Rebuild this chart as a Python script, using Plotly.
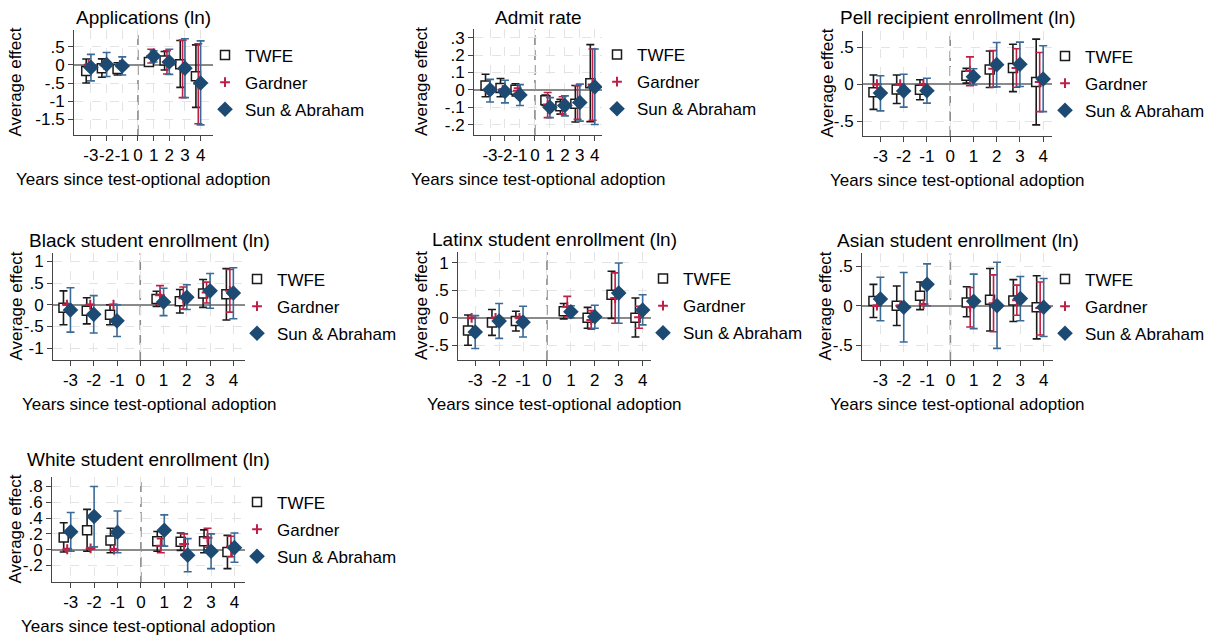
import plotly.graph_objects as go

W, H = 1216, 639
FONT = "Liberation Sans, Arial, Helvetica, sans-serif"

# Event time (years relative to test-optional adoption); 0 is the reference year
YEARS = [-3, -2, -1, 1, 2, 3, 4]
SERIES = ["TWFE", "Gardner", "Sun & Abraham"]

# ---- Applications (ln)
APPS_EST = {"TWFE": [-0.17, -0.09, -0.11, 0.08, 0.12, 0.02, -0.31],
            "Gardner": [0.0, 0.0, 0.0, 0.24, 0.07, -0.11, -0.52],
            "Sun & Abraham": [-0.07, 0.01, -0.03, 0.24, 0.08, -0.09, -0.50]}
APPS_LO = {"TWFE": [-0.50, -0.34, -0.28, 0.00, -0.14, -0.62, -1.17],
           "Gardner": [-0.02, -0.02, -0.02, 0.05, -0.25, -0.90, -1.62],
           "Sun & Abraham": [-0.44, -0.32, -0.28, 0.08, -0.26, -0.90, -1.65]}
APPS_HI = {"TWFE": [0.16, 0.165, 0.06, 0.17, 0.37, 0.67, 0.55],
           "Gardner": [0.02, 0.02, 0.02, 0.43, 0.39, 0.68, 0.58],
           "Sun & Abraham": [0.29, 0.34, 0.22, 0.39, 0.43, 0.72, 0.66]}

# ---- Admit rate
ADMIT_EST = {"TWFE": [0.025, 0.01, 0.0, -0.06, -0.095, -0.08, 0.038],
             "Gardner": [0.0, 0.0, -0.005, -0.085, -0.09, -0.075, 0.03],
             "Sun & Abraham": [0.0, -0.01, -0.03, -0.10, -0.09, -0.073, 0.017]}
ADMIT_LO = {"TWFE": [-0.04, -0.04, -0.035, -0.09, -0.14, -0.185, -0.183],
            "Gardner": [-0.005, -0.005, -0.02, -0.16, -0.14, -0.17, -0.175],
            "Sun & Abraham": [-0.07, -0.075, -0.09, -0.16, -0.15, -0.18, -0.20]}
ADMIT_HI = {"TWFE": [0.09, 0.065, 0.035, -0.03, -0.055, 0.025, 0.26],
            "Gardner": [0.005, 0.005, 0.01, -0.015, -0.04, 0.023, 0.235],
            "Sun & Abraham": [0.06, 0.055, 0.03, -0.045, -0.035, 0.033, 0.235]}

# ---- Pell recipient enrollment (ln)
PELL_EST = {"TWFE": [-0.11, -0.07, -0.075, 0.115, 0.20, 0.22, 0.03],
            "Gardner": [0.0, 0.0, 0.0, 0.18, 0.21, 0.22, 0.03],
            "Sun & Abraham": [-0.12, -0.09, -0.088, 0.10, 0.265, 0.27, 0.07]}
PELL_LO = {"TWFE": [-0.34, -0.26, -0.21, 0.015, -0.045, -0.10, -0.55],
           "Gardner": [-0.005, -0.005, -0.005, -0.02, -0.04, -0.04, -0.37],
           "Sun & Abraham": [-0.36, -0.31, -0.255, -0.01, -0.035, -0.03, -0.37]}
PELL_HI = {"TWFE": [0.125, 0.125, 0.06, 0.215, 0.45, 0.54, 0.61],
           "Gardner": [0.005, 0.005, 0.005, 0.37, 0.455, 0.48, 0.43],
           "Sun & Abraham": [0.115, 0.135, 0.08, 0.21, 0.565, 0.57, 0.52]}

# ---- Black student enrollment (ln)
BLACK_EST = {"TWFE": [-0.07, -0.14, -0.23, 0.13, 0.08, 0.26, 0.24],
             "Gardner": [0.0, 0.0, 0.0, 0.22, 0.15, 0.28, 0.32],
             "Sun & Abraham": [-0.12, -0.22, -0.37, 0.065, 0.17, 0.32, 0.27]}
BLACK_LO = {"TWFE": [-0.46, -0.44, -0.46, -0.04, -0.19, -0.06, -0.35],
            "Gardner": [-0.01, -0.01, -0.01, 0.0, -0.10, 0.04, -0.17],
            "Sun & Abraham": [-0.63, -0.65, -0.73, -0.25, -0.11, -0.08, -0.32]}
BLACK_HI = {"TWFE": [0.32, 0.16, 0.0, 0.31, 0.35, 0.58, 0.83],
            "Gardner": [0.01, 0.01, 0.01, 0.44, 0.41, 0.52, 0.81],
            "Sun & Abraham": [0.39, 0.21, 0.0, 0.38, 0.46, 0.72, 0.85]}

# ---- Latinx student enrollment (ln)
LATINX_EST = {"TWFE": [-0.23, -0.085, -0.06, 0.12, 0.0, 0.42, 0.0],
              "Gardner": [0.0, 0.0, 0.0, 0.20, -0.04, 0.36, 0.01],
              "Sun & Abraham": [-0.26, -0.06, -0.08, 0.11, 0.02, 0.45, 0.14]}
LATINX_LO = {"TWFE": [-0.50, -0.32, -0.24, -0.02, -0.19, -0.01, -0.35],
             "Gardner": [-0.01, -0.01, -0.01, 0.02, -0.21, -0.10, -0.19],
             "Sun & Abraham": [-0.56, -0.375, -0.35, 0.0, -0.19, -0.10, -0.13]}
LATINX_HI = {"TWFE": [0.05, 0.15, 0.12, 0.26, 0.19, 0.85, 0.36],
             "Gardner": [0.01, 0.01, 0.01, 0.39, 0.13, 0.82, 0.21],
             "Sun & Abraham": [0.04, 0.26, 0.21, 0.22, 0.23, 1.0, 0.42]}

# ---- Asian student enrollment (ln)
ASIAN_EST = {"TWFE": [0.06, 0.0, 0.125, 0.04, 0.075, 0.065, -0.02],
             "Gardner": [0.0, 0.0, 0.02, -0.02, 0.03, 0.07, -0.03],
             "Sun & Abraham": [0.085, -0.02, 0.27, 0.055, 0.0, 0.09, -0.02]}
ASIAN_LO = {"TWFE": [-0.15, -0.25, -0.05, -0.14, -0.32, -0.20, -0.42],
            "Gardner": [-0.005, -0.005, 0.015, -0.27, -0.33, -0.12, -0.37],
            "Sun & Abraham": [-0.19, -0.46, 0.0, -0.29, -0.54, -0.19, -0.39]}
ASIAN_HI = {"TWFE": [0.27, 0.25, 0.30, 0.24, 0.47, 0.33, 0.38],
            "Gardner": [0.005, 0.005, 0.025, 0.23, 0.39, 0.26, 0.30],
            "Sun & Abraham": [0.36, 0.42, 0.53, 0.40, 0.55, 0.37, 0.345]}

# ---- White student enrollment (ln)
WHITE_EST = {"TWFE": [0.155, 0.245, 0.115, 0.105, 0.10, 0.105, -0.03],
             "Gardner": [0.005, 0.015, 0.0, 0.05, 0.07, 0.15, 0.04],
             "Sun & Abraham": [0.225, 0.42, 0.22, 0.245, -0.07, -0.02, 0.025]}
WHITE_LO = {"TWFE": [-0.03, -0.02, -0.04, -0.02, -0.01, -0.04, -0.24],
            "Gardner": [-0.005, 0.005, -0.01, -0.04, -0.06, 0.03, -0.09],
            "Sun & Abraham": [-0.02, 0.035, -0.04, 0.045, -0.28, -0.24, -0.16]}
WHITE_HI = {"TWFE": [0.34, 0.51, 0.27, 0.23, 0.21, 0.25, 0.18],
            "Gardner": [0.015, 0.025, 0.01, 0.14, 0.20, 0.27, 0.17],
            "Sun & Abraham": [0.47, 0.80, 0.49, 0.44, 0.14, 0.20, 0.21]}

# y-axis tick values / labels per outcome
APPS_YTICKS = [-1.5, -1, -0.5, 0, 0.5]
APPS_YLABELS = ["-1.5", "-1", "-.5", "0", ".5"]
ADMIT_YTICKS = [-0.2, -0.1, 0, 0.1, 0.2, 0.3]
ADMIT_YLABELS = ["-.2", "-.1", "0", ".1", ".2", ".3"]
HALF_YTICKS = [-0.5, 0, 0.5]
HALF_YLABELS = ["-.5", "0", ".5"]
BLACK_YTICKS = [-1, -0.5, 0, 0.5, 1]
BLACK_YLABELS = ["-1", "-.5", "0", ".5", "1"]
LATINX_YTICKS = [-0.5, 0, 0.5, 1]
LATINX_YLABELS = ["-.5", "0", ".5", "1"]
WHITE_YTICKS = [-0.2, 0, 0.2, 0.4, 0.6, 0.8]
WHITE_YLABELS = ["-.2", "0", ".2", ".4", ".6", ".8"]

XTICKS = [-3, -2, -1, 0, 1, 2, 3, 4]

PANELS = [
    dict(title="Applications (ln)", est=APPS_EST, lo=APPS_LO, hi=APPS_HI,
         yt=APPS_YTICKS, yl=APPS_YLABELS),
    dict(title="Admit rate", est=ADMIT_EST, lo=ADMIT_LO, hi=ADMIT_HI,
         yt=ADMIT_YTICKS, yl=ADMIT_YLABELS),
    dict(title="Pell recipient enrollment (ln)", est=PELL_EST, lo=PELL_LO, hi=PELL_HI,
         yt=HALF_YTICKS, yl=HALF_YLABELS),
    dict(title="Black student enrollment (ln)", est=BLACK_EST, lo=BLACK_LO, hi=BLACK_HI,
         yt=BLACK_YTICKS, yl=BLACK_YLABELS),
    dict(title="Latinx student enrollment (ln)", est=LATINX_EST, lo=LATINX_LO, hi=LATINX_HI,
         yt=LATINX_YTICKS, yl=LATINX_YLABELS),
    dict(title="Asian student enrollment (ln)", est=ASIAN_EST, lo=ASIAN_LO, hi=ASIAN_HI,
         yt=HALF_YTICKS, yl=HALF_YLABELS),
    dict(title="White student enrollment (ln)", est=WHITE_EST, lo=WHITE_LO, hi=WHITE_HI,
         yt=WHITE_YTICKS, yl=WHITE_YLABELS),
]

# Panel geometry in pixels: plot box (left, right, top, bottom), axis ranges,
# title y, y-title x, legend text start x
GEOM = [
    dict(box=(74, 213, 30, 135), xr=(-4.08, 4.79), yr=(-1.93, 0.96), ty=18, ytx=15, lgx=245),
    dict(box=(474, 602, 29, 135), xr=(-4.07, 4.48), yr=(-0.26, 0.35), ty=17, ytx=422, lgx=637),
    dict(box=(863, 1052, 31, 136), xr=(-3.75, 4.38), yr=(-0.70, 0.72), ty=17, ytx=827, lgx=1085),
    dict(box=(53, 245, 253, 360), xr=(-3.75, 4.5), yr=(-1.27, 1.19), ty=240, ytx=16, lgx=277),
    dict(box=(458, 651, 252, 360), xr=(-3.72, 4.35), yr=(-0.77, 1.2), ty=239, ytx=421, lgx=683),
    dict(box=(862, 1053, 253, 360), xr=(-3.79, 4.4), yr=(-0.687, 0.667), ty=240, ytx=825, lgx=1085),
    dict(box=(52, 245, 477, 582), xr=(-3.8, 4.45), yr=(-0.41, 0.92), ty=460, ytx=15, lgx=277),
]

OFFSET = {"TWFE": -0.3, "Gardner": -0.15, "Sun & Abraham": 0.0}
RED = "#bf2146"
NAVY = "#1d4a72"
BAR_BLUE = "#3a6a95"
BLACK = "#1a1a1a"
MARKERS = {
    "TWFE": dict(symbol="square", size=9, color="white", line=dict(color=BLACK, width=1.5)),
    "Gardner": dict(symbol="cross-thin", size=7, color=RED, line=dict(color=RED, width=2)),
    "Sun & Abraham": dict(symbol="diamond", size=12, color=NAVY, line=dict(width=0)),
}
BAR_COLOR = {"TWFE": BLACK, "Gardner": RED, "Sun & Abraham": BAR_BLUE}


def fx(px):
    return px / W


def fy(px):
    return 1 - px / H


fig = go.Figure()
annotations = []
shapes = []
layout = {}

for i, (panel, g) in enumerate(zip(PANELS, GEOM), start=1):
    sfx = "" if i == 1 else str(i)
    xname, yname = f"x{sfx}", f"y{sfx}"
    lname = "legend" if i == 1 else f"legend{i}"
    left, right, top, bottom = g["box"]

    for s in SERIES:
        est, lo, hi = panel["est"][s], panel["lo"][s], panel["hi"][s]
        fig.add_trace(go.Scatter(
            x=[yr + OFFSET[s] for yr in YEARS], y=est,
            mode="markers", name=s, legend=lname,
            legendgroup=f"{i}-{s}", xaxis=xname, yaxis=yname,
            marker=MARKERS[s],
            error_y=dict(type="data", symmetric=False,
                         array=[h - e for h, e in zip(hi, est)],
                         arrayminus=[e - l for e, l in zip(est, lo)],
                         color=BAR_COLOR[s], thickness=1.6, width=4),
        ))

    axis_common = dict(showline=True, linecolor="#444", linewidth=1,
                       ticks="outside", ticklen=5, tickcolor="#444", tickwidth=1,
                       showgrid=True, gridcolor="#e4e4e4", gridwidth=1, griddash="dash",
                       tickfont=dict(family=FONT, size=17, color="black"),
                       tickangle=0, fixedrange=True)
    layout[f"xaxis{sfx}"] = dict(axis_common, domain=[fx(left), fx(right)],
                                 range=list(g["xr"]), anchor=yname,
                                 tickvals=XTICKS, ticktext=[str(t) for t in XTICKS],
                                 zeroline=False)
    layout[f"yaxis{sfx}"] = dict(axis_common, domain=[fy(bottom), fy(top)],
                                 range=list(g["yr"]), anchor=xname,
                                 tickvals=panel["yt"], ticktext=panel["yl"],
                                 zeroline=True, zerolinecolor="#8a8a8a", zerolinewidth=1.6)

    # dashed reference line at the adoption year
    shapes.append(dict(type="line", xref=xname, yref=f"{yname} domain",
                       x0=0, x1=0, y0=0, y1=1, layer="below",
                       line=dict(color="#8a8a8a", width=1.6, dash="10px,5px")))

    cx = fx((left + right) / 2)
    annotations.append(dict(text=panel["title"], xref="paper", yref="paper",
                            x=cx, y=fy(g["ty"]), xanchor="center", yanchor="middle",
                            showarrow=False, font=dict(family=FONT, size=19, color="black")))
    annotations.append(dict(text="Years since test-optional adoption", xref="paper", yref="paper",
                            x=cx, y=fy(bottom + 44), xanchor="center", yanchor="middle",
                            showarrow=False, font=dict(family=FONT, size=17, color="black")))
    annotations.append(dict(text="Average effect", xref="paper", yref="paper",
                            x=fx(g["ytx"]), y=fy((top + bottom) / 2), textangle=-90,
                            xanchor="center", yanchor="middle",
                            showarrow=False, font=dict(family=FONT, size=17, color="black")))

    layout[lname] = dict(x=fx(g["lgx"] - 40), y=fy((top + bottom) / 2),
                         xanchor="left", yanchor="middle",
                         font=dict(family=FONT, size=17, color="black"),
                         bgcolor="rgba(0,0,0,0)", borderwidth=0,
                         traceorder="grouped", tracegroupgap=2, itemwidth=30)

fig.update_layout(
    width=W, height=H,
    margin=dict(l=0, r=0, t=0, b=0),
    paper_bgcolor="white", plot_bgcolor="white",
    font=dict(family=FONT, color="black"),
    showlegend=True,
    annotations=annotations,
    shapes=shapes,
    **layout,
)

fig.write_html("out.html")
